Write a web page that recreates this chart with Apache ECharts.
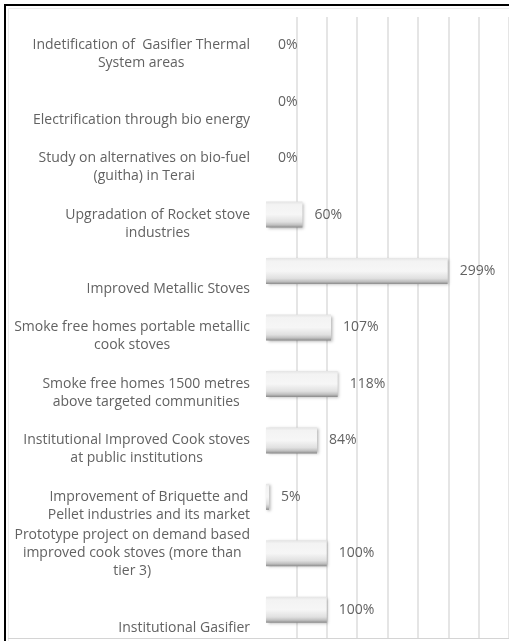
<!DOCTYPE html>
<html>
<head>
<meta charset="utf-8">
<script src="https://cdn.jsdelivr.net/npm/echarts@6/dist/echarts.min.js"></script>
<style>
  html, body { margin: 0; padding: 0; background: #ffffff; }
  #chart { width: 509px; height: 641px; }
</style>
</head>
<body>
<div id="chart"></div>
<script>
// Project categories, top to bottom; "\n" marks where each label wraps.
const categories = [
  'Indetification of  Gasifier Thermal\nSystem areas',
  'Electrification through bio energy',
  'Study on alternatives on bio-fuel\n(guitha) in Terai',
  'Upgradation of Rocket stove\nindustries',
  'Improved Metallic Stoves',
  'Smoke free homes portable metallic\ncook stoves',
  'Smoke free homes 1500 metres\nabove targeted communities',
  'Institutional Improved Cook stoves\nat public institutions',
  'Improvement of Briquette and\nPellet industries and its market',
  'Prototype project on demand based\nimproved cook stoves (more than\ntier 3)',
  'Institutional Gasifier'
];

// Achievement against target, percent
const achievement = [0, 0, 0, 60, 299, 107, 118, 84, 5, 100, 100];

// Value axis scale
const axisMin = 0;
const axisMax = 400;
const axisStep = 50;

const textColor = '#626262';
const fontFamily = '"Open Sans", "Liberation Sans", sans-serif';

// Each label is laid out as a 3-line block, filled from the bottom,
// with every line centred inside the block.
function categoryLabel(value) {
  const lines = value.split('\n');
  while (lines.length < 3) lines.unshift(' ');
  return lines.map(l => '{c|' + l + '}').join('\n');
}

const barFill = new echarts.graphic.LinearGradient(0, 0, 0, 1, [
  { offset: 0, color: '#e4e4e4' },
  { offset: 0.12, color: '#f3f3f3' },
  { offset: 0.5, color: '#f6f6f6' },
  { offset: 0.78, color: '#e0e0e0' },
  { offset: 0.9, color: '#c0c0c0' },
  { offset: 1, color: '#8a8a8a' }
]);

const chart = echarts.init(document.getElementById('chart'), null, { renderer: 'canvas' });

chart.setOption({
  backgroundColor: '#ffffff',
  animation: false,
  grid: {
    left: 266,
    top: 17,
    width: 252,
    height: 621,
    containLabel: false
  },
  xAxis: {
    type: 'value',
    min: axisMin,
    max: axisMax,
    interval: axisStep,
    axisLine: { show: false },
    axisTick: { show: false },
    axisLabel: { show: false },
    splitLine: {
      show: true,
      showMinLine: false,
      lineStyle: { color: '#dcdcdc', width: 1.5 }
    }
  },
  yAxis: {
    type: 'category',
    inverse: true,
    data: categories,
    axisLine: { show: false },
    axisTick: { show: false },
    axisLabel: {
      margin: 16,
      align: 'right',
      formatter: categoryLabel,
      lineHeight: 18,
      rich: {
        c: {
          align: 'center',
          color: textColor,
          fontFamily: fontFamily,
          fontSize: 14,
          lineHeight: 18
        }
      }
    }
  },
  series: [{
    type: 'bar',
    data: achievement,
    barWidth: 26,
    itemStyle: {
      color: barFill,
      borderWidth: 0,
      shadowColor: 'rgba(0,0,0,0.3)',
      shadowBlur: 3,
      shadowOffsetX: 1.5,
      shadowOffsetY: 1
    },
    label: {
      show: true,
      position: 'right',
      distance: 12,
      formatter: '{c}%',
      color: textColor,
      fontFamily: fontFamily,
      fontSize: 14
    }
  }],
  graphic: [
    // outer frame
    { type: 'line', shape: { x1: 4, y1: 5, x2: 509, y2: 5 }, style: { stroke: '#000000', lineWidth: 2 }, z: 10 },
    { type: 'line', shape: { x1: 5, y1: 4, x2: 5, y2: 641 }, style: { stroke: '#000000', lineWidth: 2 }, z: 10 },
    // inner chart-area border
    { type: 'line', shape: { x1: 8.5, y1: 8.5, x2: 509, y2: 8.5 }, style: { stroke: '#ececec', lineWidth: 1 }, z: 10 },
    { type: 'line', shape: { x1: 8.5, y1: 8.5, x2: 8.5, y2: 641 }, style: { stroke: '#ececec', lineWidth: 1 }, z: 10 },
    { type: 'line', shape: { x1: 8, y1: 638.5, x2: 509, y2: 638.5 }, style: { stroke: '#d4d4d4', lineWidth: 1 }, z: 10 }
  ]
});
</script>
</body>
</html>
